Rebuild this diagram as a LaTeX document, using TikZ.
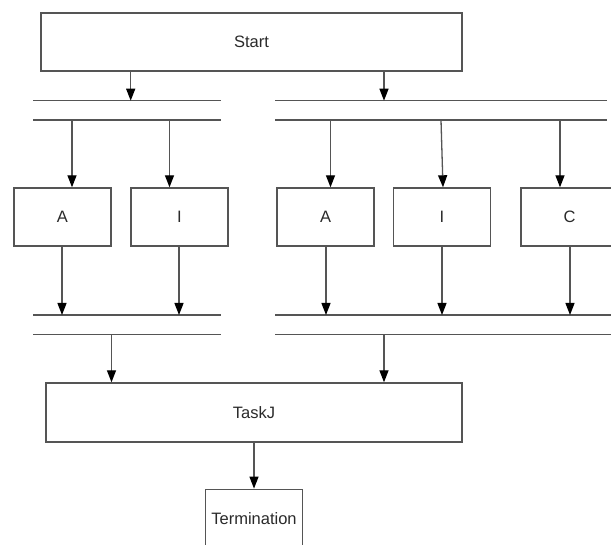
\documentclass[tikz,border=0pt]{standalone}
\usepackage{fontspec}
\setmainfont{Liberation Sans}
\usetikzlibrary{arrows.meta}
\definecolor{linegray}{HTML}{555555}
\definecolor{txtgray}{HTML}{2A2A2A}
\begin{document}
\begin{tikzpicture}[x=1pt,y=-1pt,
  box/.style={draw=linegray, line width=1.4pt, inner sep=0pt, text=txtgray,
    font=\fontsize{16.5}{19}\selectfont},
  smallbox/.style={box, minimum width=97pt, minimum height=58pt},
  bar/.style={draw=linegray, line width=1.4pt},
  arr/.style={draw=linegray, line width=1.3pt,
    -{Triangle[length=12pt,width=9pt,color=black,fill=black]}}]
\clip (0,0) rectangle (611,545);
\fill[white] (0,0) rectangle (611,545);

% boxes
\node[box, minimum width=421pt, minimum height=58pt] (start) at (251.5,42) {Start};
\node[smallbox] (a1) at (62.5,217) {A};
\node[smallbox] (i1) at (179.5,217) {I};
\node[smallbox] (a2) at (325.5,217) {A};
\node[smallbox] (i2) at (442,217) {I};
\node[smallbox] (c2) at (569.5,217) {C};
\node[box, minimum width=416pt, minimum height=59pt] (taskj) at (254,412.5) {TaskJ};
\node[box, minimum width=97.5pt, minimum height=58pt] (term) at (254,518.3) {Termination};

% bars
\coordinate (b1Ll) at (33,100.7);   \coordinate (b1Lr) at (220.6,100.7);
\coordinate (b2Ll) at (33,120);     \coordinate (b2Lr) at (220.6,120);
\coordinate (b1Rl) at (275,100.7);  \coordinate (b1Rr) at (607,100.7);
\coordinate (b2Rl) at (275,120);    \coordinate (b2Rr) at (607,120);
\coordinate (b3Ll) at (33,315);     \coordinate (b3Lr) at (220.6,315);
\coordinate (b4Ll) at (33,334.3);   \coordinate (b4Lr) at (220.6,334.3);
\coordinate (b3Rl) at (275,315);    \coordinate (b3Rr) at (615,315);
\coordinate (b4Rl) at (275,334.3);  \coordinate (b4Rr) at (615,334.3);
\foreach \b in {1L,2L,1R,2R,3L,4L,3R,4R}
  \draw[bar] (b\b l) -- (b\b r);

% arrow end points
\coordinate (s1) at (130.7,100.7);
\coordinate (s2) at (384,100.7);
\coordinate (f1) at (72,120);
\coordinate (f2) at (169.5,120);
\coordinate (f3) at (330.5,120);
\coordinate (f4) at (441,120);
\coordinate (f5) at (560,120);
\coordinate (g1) at (62,315);
\coordinate (g2) at (179,315);
\coordinate (g3) at (326,315);
\coordinate (g4) at (442,315);
\coordinate (g5) at (570,315);
\coordinate (h1) at (111.5,334.3);
\coordinate (h2) at (384,334.3);

% connectors
\draw[arr] (start.south -| s1) -- (s1);
\draw[arr] (start.south -| s2) -- (s2);
\draw[arr] (f1) -- (f1 |- a1.north);
\draw[arr] (f2) -- (f2 |- i1.north);
\draw[arr] (f3) -- (f3 |- a2.north);
\draw[arr] (f4) -- ([xshift=2pt]f4 |- i2.north);
\draw[arr] (f5) -- (f5 |- c2.north);
\draw[arr] (a1.south -| g1) -- (g1);
\draw[arr] (i1.south -| g2) -- (g2);
\draw[arr] (a2.south -| g3) -- (g3);
\draw[arr] (i2.south -| g4) -- (g4);
\draw[arr] (c2.south -| g5) -- (g5);
\draw[arr] (h1) -- (h1 |- taskj.north);
\draw[arr] (h2) -- (h2 |- taskj.north);
\draw[arr] (taskj.south -| term.north) -- (term.north);
\end{tikzpicture}
\end{document}
